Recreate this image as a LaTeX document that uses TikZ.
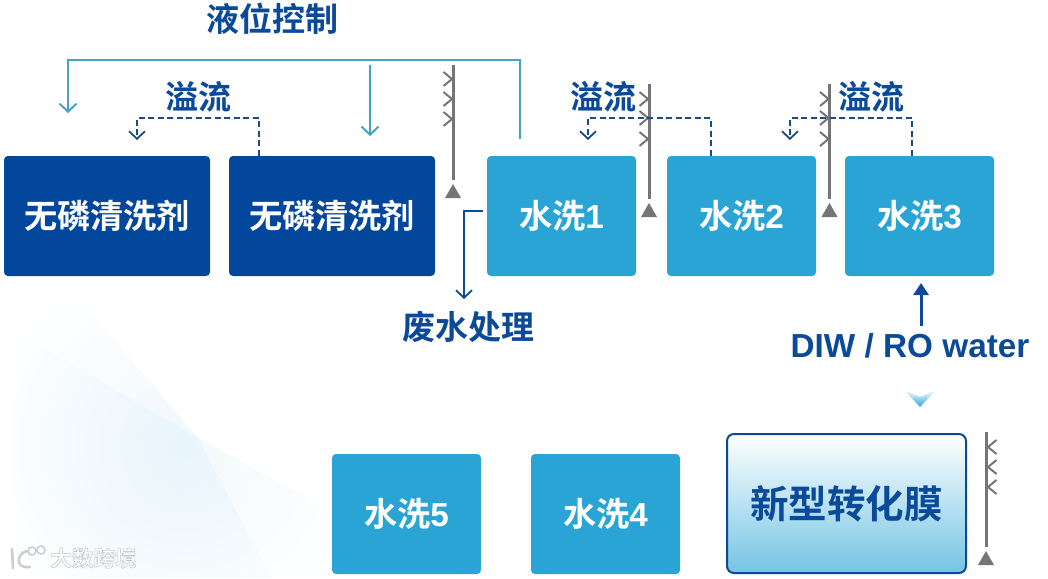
\documentclass[tikz,border=0pt]{standalone}
\usepackage{fontspec}
\setmainfont{Liberation Sans}
\newfontfamily\cjk{Noto Sans CJK SC Bold}
\newfontfamily\lat{Liberation Sans Bold}
\usetikzlibrary{arrows.meta,fadings,calc}
\definecolor{darkbox}{HTML}{03479C}
\definecolor{lightbox}{HTML}{2AA4D5}
\definecolor{textblue}{HTML}{0B4A99}
\definecolor{teal}{HTML}{46A3C8}
\definecolor{dashblue}{HTML}{1A4B82}
\definecolor{gaugegray}{HTML}{757575}
\definecolor{fan}{HTML}{D8EDF9}
\definecolor{marktext}{HTML}{C9CED2}
\tikzfading[name=fanfade, inner color=transparent!0, outer color=transparent!100]
\tikzset{
  tank/.style={rounded corners=4pt,inner sep=0pt,text=white,font=\fontsize{33.2}{33}\cjk,minimum height=120pt},
  bigtank/.style={tank,fill=darkbox,minimum width=206pt},
  washtank/.style={tank,fill=lightbox,minimum width=149pt},
  caption/.style={text=textblue,inner sep=0pt,font=\fontsize{33}{33}\cjk},
  levelline/.style={teal,line width=2pt,-{Straight Barb[length=8pt,width=17pt,line width=2pt]}},
  overflow/.style={dashblue,line width=2pt,dash pattern=on 6pt off 3.5pt,-{Straight Barb[length=7.5pt,width=16pt,line width=1.8pt]}},
  gaugeline/.style={gaugegray,line width=3pt},
  chev/.style={gaugegray,line width=2pt},
}
\newcommand{\gaugeR}[3]{% x, top, y of line bottom
  \draw[gaugeline] (#1,#2) -- (#1,#3);
  \fill[gaugegray] ($(#1,#3)+(-8,18)$) -- ($(#1,#3)+(8,18)$) -- ($(#1,#3)+(0,4)$) -- cycle;
}
\newcommand{\chevR}[2]{\draw[chev] (#1-9.5,#2-7) -- (#1-1,#2) -- (#1-9.5,#2+7);}
\newcommand{\chevL}[2]{\draw[chev] (#1+10.5,#2-7) -- (#1+2,#2) -- (#1+10.5,#2+7);}
\begin{document}
\begin{tikzpicture}[x=1pt,y=-1pt]
\useasboundingbox (0,0) rectangle (1048,578);
% background fan
\fill[fan,opacity=.38,path fading=fanfade,fit fading=false,fading transform={shift={(185,445)},scale=8}]
  (12,276) -- (60,276) -- (197,437) -- (272,578) -- (12,578) -- cycle;
\fill[fan,opacity=.32,path fading=fanfade,fit fading=false,fading transform={shift={(185,445)},scale=8}]
  (12,330) -- (197,437) -- (332,512) -- (332,578) -- (12,578) -- cycle;
% tanks
\node[bigtank] (b1) at (107,216) {无磷清洗剂};
\node[bigtank] (b2) at (332,216) {无磷清洗剂};
\node[washtank] (w1) at (561.5,216) {水洗{\lat 1}};
\node[washtank] (w2) at (741.5,216) {水洗{\lat 2}};
\node[washtank] (w3) at (919.5,216) {水洗{\lat 3}};
\node[washtank] (w5) at (406.5,514) {水洗{\lat 5}};
\node[washtank] (w4) at (605.5,514) {水洗{\lat 4}};
\node[tank,draw=textblue,line width=2pt,top color=white,bottom color=lightbox!65,minimum width=239pt,minimum height=139pt,rounded corners=7pt,text=textblue,font=\fontsize{38.5}{39}\cjk] (m) at (846.5,503.5) {新型转化膜};
% captions
\node[caption] (t1) at (272,19) {液位控制};
\node[caption] (t2) at (198.5,97) {溢流};
\node[caption] (t3) at (603,97) {溢流};
\node[caption] (t4) at (871.5,97) {溢流};
\node[caption] (t5) at (468.5,327) {废水处理};
\node[text=textblue,inner sep=0pt,font=\fontsize{33.3}{34}\lat] (t6) at (910,346) {DIW / RO water};
% level control
\coordinate (lvlstart) at (520,139);
\coordinate (lvlend) at (68,113);
\coordinate (lvl2a) at (370,65);
\coordinate (lvl2b) at (370,136);
\draw[levelline] (lvlstart) -- (520,60) -- (68,60) -- (lvlend);
\draw[levelline] (lvl2a) -- (lvl2b);
% gauges
\gaugeR{453}{65}{180}
\chevR{453}{79}\chevR{453}{99}\chevR{453}{119}
\gaugeR{649}{84}{199}
\chevR{649}{99}\chevR{649}{118}\chevR{649}{139}
\gaugeR{829.5}{84}{199}
\chevR{829.5}{99}\chevR{829.5}{118}\chevR{829.5}{139}
\gaugeR{986}{432}{547}
\chevL{986}{447}\chevL{986}{467}\chevL{986}{487}
% overflow
\coordinate (o1) at (259,118); \coordinate (o1e) at (137,140);
\coordinate (o2) at (710.5,118); \coordinate (o2e) at (588,140);
\coordinate (o3) at (912,118); \coordinate (o3e) at (790,140);
\draw[overflow] (b2.north -| o1) -- (o1) -- (o1 -| o1e) -- (o1e);
\draw[overflow] (w2.north -| o2) -- (o2) -- (o2 -| o2e) -- (o2e);
\draw[overflow] (w3.north -| o3) -- (o3) -- (o3 -| o3e) -- (o3e);
% waste
\coordinate (ws) at (483,211); \coordinate (we) at (464,299);
\draw[textblue,line width=1.8pt,-{Straight Barb[length=7.5pt,width=16pt,line width=1.8pt]}] (ws) -- (ws -| we) -- (we);
% DIW arrow
\coordinate (da) at (921,326);
\coordinate (db) at (921,283);
\draw[textblue,line width=3pt,-{Triangle[length=12pt,width=15pt]}] (da) -- (db);
% flow chevron
\shade[top color=white,bottom color=lightbox] (904,390) -- (920,397) -- (936,390) -- (920,407) -- cycle;
% watermark
\draw[marktext,line width=2.6pt,line cap=round] (12,549) -- (13,568);
\draw[marktext,line width=2.6pt,line cap=round] (27,551) .. controls (17,553) and (14,569) .. (30,567);
\draw[marktext,line width=1.6pt] (32,551) circle[radius=4];
\draw[marktext,line width=1.6pt] (41,550) circle[radius=4];
\node[inner sep=0pt,text=white,font=\fontsize{21.5}{22}\cjk] (wm) at (93.5,558)
  {\special{pdf:code 2 Tr 0.5 w 0.74 0.76 0.78 RG}大数跨境\special{pdf:code 0 Tr}};
\end{tikzpicture}
\end{document}
